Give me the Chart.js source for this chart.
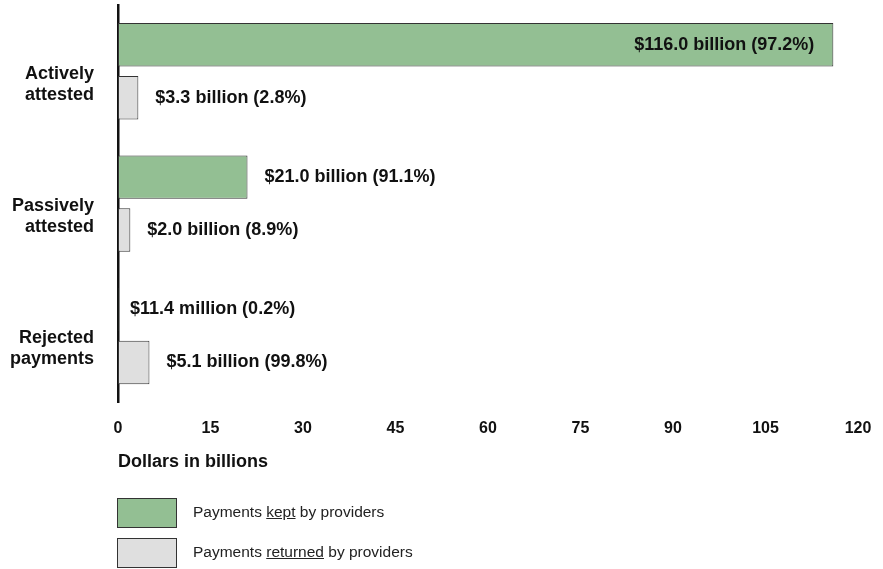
<!DOCTYPE html>
<html>
<head>
<meta charset="utf-8">
<script src="https://cdn.jsdelivr.net/npm/chart.js@4.4.0/dist/chart.umd.min.js"></script>
<style>
  html, body { margin: 0; padding: 0; background: #fff; }
  #wrap { position: relative; width: 883px; height: 569px; overflow: hidden; }
  .legend-item { position: absolute; left: 117px; height: 30px; }
  .legend-box { position: absolute; left: 0; top: 0; width: 60px; height: 30px; box-sizing: border-box; border: 1px solid #333; }
  .legend-text { position: absolute; left: 76px; top: 5px; white-space: nowrap; font: 15.5px "Liberation Sans", Arial, sans-serif; color: #222; }
</style>
</head>
<body>
<div id="wrap">
  <canvas id="chart" width="883" height="569"></canvas>
  <div class="legend-item" style="top:498px">
    <div class="legend-box" style="background:#93bf93"></div>
    <div class="legend-text">Payments <u>kept</u> by providers</div>
  </div>
  <div class="legend-item" style="top:538px">
    <div class="legend-box" style="background:#dfdfdf"></div>
    <div class="legend-text">Payments <u>returned</u> by providers</div>
  </div>
</div>
<script>
// 数据
const categories = [['Actively', 'attested'], ['Passively', 'attested'], ['Rejected', 'payments']];
const keptValues = [116.0, 21.0, 0.0114];
const returnedValues = [3.3, 2.0, 5.1];
const keptLabels = ['$116.0 billion (97.2%)', '$21.0 billion (91.1%)', '$11.4 million (0.2%)'];
const returnedLabels = ['$3.3 billion (2.8%)', '$2.0 billion (8.9%)', '$5.1 billion (99.8%)'];
const xTicks = [0, 15, 30, 45, 60, 75, 90, 105, 120];

const FONT = '"Liberation Sans", Arial, sans-serif';

// 分类标签 (左侧两行)
const categoryLabelPlugin = {
    id: 'categoryLabels',
    afterDraw(chart) {
        const ctx = chart.ctx;
        const y = chart.scales.y;
        ctx.save();
        ctx.font = 'bold 18px ' + FONT;
        ctx.fillStyle = '#111';
        ctx.textAlign = 'right';
        ctx.textBaseline = 'middle';
        categories.forEach((lines, i) => {
            const cy = y.getPixelForValue(i) + 13;
            lines.forEach((line, j) => {
                ctx.fillText(line, 94, cy + (j - (lines.length - 1) / 2) * 21);
            });
        });
        ctx.restore();
    }
};

// 数值标签
const valueLabelPlugin = {
    id: 'valueLabels',
    afterDatasetsDraw(chart) {
        const ctx = chart.ctx;
        const area = chart.chartArea;
        const labelSets = [keptLabels, returnedLabels];
        ctx.save();
        ctx.font = 'bold 18px ' + FONT;
        ctx.fillStyle = '#111';
        ctx.textBaseline = 'middle';
        chart.data.datasets.forEach((ds, di) => {
            chart.getDatasetMeta(di).data.forEach((bar, i) => {
                const text = labelSets[di][i];
                const w = ctx.measureText(text).width;
                const offset = ds.data[i] < 1 ? 12 : 17;
                if (bar.x + offset + w > area.right) {
                    ctx.textAlign = 'right';
                    ctx.fillText(text, bar.x - 19, bar.y);
                } else {
                    ctx.textAlign = 'left';
                    ctx.fillText(text, bar.x + offset, bar.y);
                }
            });
        });
        ctx.restore();
    }
};

new Chart(document.getElementById('chart').getContext('2d'), {
    type: 'bar',
    data: {
        labels: categories.map(c => c.join(' ')),
        datasets: [
            {
                label: 'Payments kept by providers',
                data: keptValues,
                backgroundColor: '#93bf93',
                borderColor: '#333',
                borderWidth: ctx => (ctx.raw < 0.1 ? 0 : 1),
                borderSkipped: false,
                categoryPercentage: 0.8,
                barPercentage: 0.82
            },
            {
                label: 'Payments returned by providers',
                data: returnedValues,
                backgroundColor: '#dfdfdf',
                borderColor: '#333',
                borderWidth: 1,
                borderSkipped: false,
                categoryPercentage: 0.8,
                barPercentage: 0.82
            }
        ]
    },
    options: {
        indexAxis: 'y',
        responsive: false,
        animation: false,
        layout: { padding: { left: 118, right: 25, top: 5, bottom: 96 } },
        plugins: {
            legend: { display: false },
            tooltip: { enabled: false }
        },
        scales: {
            x: {
                min: 0,
                max: 120,
                afterBuildTicks: axis => { axis.ticks = xTicks.map(v => ({ value: v })); },
                grid: { display: false, drawTicks: true, tickLength: 17 },
                border: { display: false },
                ticks: {
                    padding: 0,
                    color: '#111',
                    font: { family: FONT, size: 16, weight: 'bold' }
                },
                title: {
                    display: true,
                    text: 'Dollars in billions',
                    align: 'start',
                    color: '#111',
                    padding: { top: 13, bottom: 0 },
                    font: { family: FONT, size: 18, weight: 'bold' }
                }
            },
            y: {
                grid: { display: false, drawTicks: false },
                border: { display: true, color: '#111', width: 2.5 },
                ticks: { display: false }
            }
        }
    },
    plugins: [categoryLabelPlugin, valueLabelPlugin]
});
</script>
</body>
</html>
